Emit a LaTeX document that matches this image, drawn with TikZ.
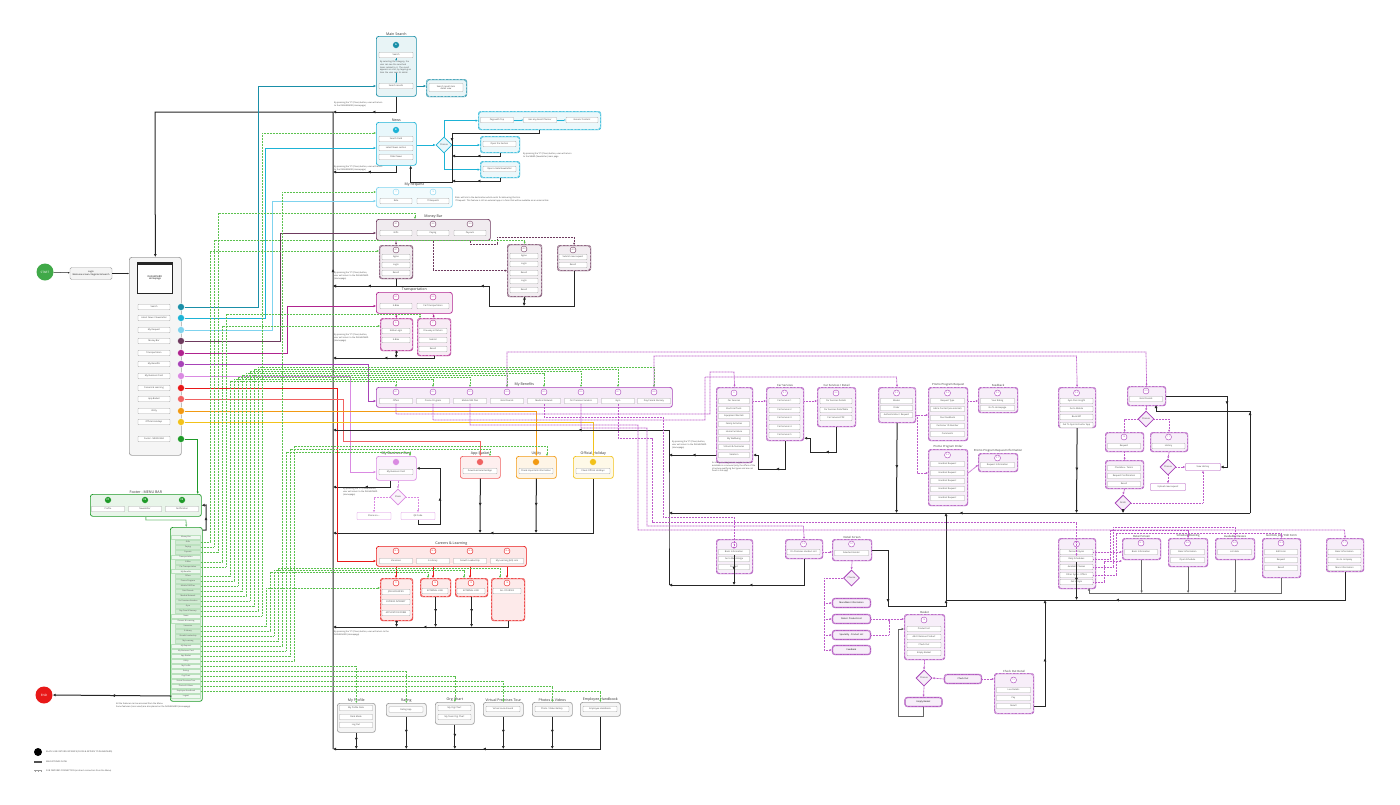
\documentclass[tikz,border=0pt]{standalone}
\usepackage{fontspec}
\setmainfont{Open Sans}
\usetikzlibrary{arrows.meta,positioning,calc,shapes.geometric,decorations.markings}
\definecolor{ms}{HTML}{1A8FA8}
\definecolor{nw}{HTML}{1DB3D6}
\definecolor{rq}{HTML}{7FD3EE}
\definecolor{mb}{HTML}{6E3A5E}
\definecolor{tr}{HTML}{B0238F}
\definecolor{bf}{HTML}{A843B8}
\definecolor{bc}{HTML}{DA8AE2}
\definecolor{cl}{HTML}{E81818}
\definecolor{ab}{HTML}{F06262}
\definecolor{ut}{HTML}{F29A12}
\definecolor{oh}{HTML}{F2C21A}
\definecolor{ft}{HTML}{1E9A28}
\definecolor{gd}{HTML}{5CC24F}
\definecolor{pd}{HTML}{BE5CCA}
\definecolor{rt}{HTML}{262626}
\definecolor{gy}{HTML}{A0A0A0}
% panel from (x1,y1) to (x2,y2), y going down
\newcommand{\pnl}[6]{\node[#2, anchor=north west, minimum width={#5-#3}, minimum height={#6-#4}] (#1) at (#3,#4) {};}
\tikzset{
  panel/.style={draw=#1, fill=#1!10, rounded corners=2.5pt, line width=0.7pt, inner sep=0pt},
  subpanel/.style={draw=#1, fill=#1!9, rounded corners=2.5pt, line width=1.2pt, inner sep=0pt,
    postaction={draw=white, line width=0.4pt, dash pattern=on 0.7pt off 0.7pt}},
  item/.style={draw=black!35, fill=white, rounded corners=0.6pt, line width=0.3pt, minimum height=5.5pt,
    minimum width=32pt, inner sep=0.2pt, font=\fontsize{2.2}{2.6}\selectfont, text=black!75},
  num/.style={circle, draw=#1, fill=white, line width=0.4pt, minimum size=6pt, inner sep=0pt,
    font=\fontsize{2}{2.4}\selectfont, text=#1},
  dot/.style={circle, fill=#1, draw=white, line width=0.4pt, minimum size=7pt, inner sep=0pt,
    font=\fontsize{2.4}{2.8}\selectfont\bfseries, text=white},
  ttl/.style={font=\fontsize{3.6}{4}\selectfont, text=black!80, inner sep=0.6pt, anchor=south},
  ttls/.style={ttl, font=\fontsize{2.8}{3.2}\selectfont},
  note/.style={font=\fontsize{2.1}{2.6}\selectfont, text=black!75, align=left, anchor=north west, inner sep=0pt},
  choice/.style={diamond, draw=#1, fill=#1!10, line width=0.8pt, minimum size=16pt, inner sep=0pt,
    font=\fontsize{2.2}{2.6}\selectfont, text=black!75},
  feed/.style={draw=#1, line width=0.8pt, -{Latex[length=2.4pt,width=2.4pt]}},
  tiny/.style={draw=#1, line width=0.35pt, -{Latex[length=1.6pt,width=1.6pt]}},
  mid/.style={postaction={decorate, decoration={markings,
    mark=at position 0.5 with {\arrow{Latex[length=3pt,width=3pt]}}}}},
  ret/.style={draw=rt, line width=1pt, -{Latex[length=3pt,width=3pt]}, mid},
  sub/.style={draw=pd, line width=0.7pt, dash pattern=on 1pt off 0.5pt, -{Latex[length=2.2pt,width=2.2pt]}},
  grn/.style={draw=gd, line width=0.6pt, dash pattern=on 1pt off 0.5pt, -{Latex[length=2.2pt,width=2.2pt]}},
  frowh/.style={draw=ft!30, fill=ft!7, minimum width=29pt, minimum height=4.3pt, inner sep=0.2pt,
    font=\fontsize{1.9}{2.2}\selectfont, text=black!70},
  frowi/.style={frowh, fill=ft!20, minimum width=25pt}
}
\begin{document}
\begin{tikzpicture}[x=1pt,y=-1pt, font=\fontsize{2.2}{2.6}\selectfont]
\useasboundingbox (0,0) rectangle (1400,804);
\fill[white] (0,0) rectangle (1400,804);

% ---------------- start, login, dashboard
\node[circle, fill=ft!85!white, minimum size=17pt, inner sep=0pt, text=white,
  font=\fontsize{3}{3.5}\selectfont] (start) at (45,272) {START};
\node[draw=gy, fill=gy!12, rounded corners=1.5pt, minimum width=42pt, minimum height=12pt,
  align=center, inner sep=0pt] (login) at (91,273.5) {Login\\Welcome screen / Register \& Search};
\pnl{dash}{panel=gy}{129}{257}{181}{455}
\node[draw=rt, line width=0.9pt, fill=white, minimum width=35pt, minimum height=31pt,
  anchor=north west, align=center, font=\fontsize{2.4}{2.9}\selectfont] (scr) at (137,262) {DASHBOARD\\Homepage};
\fill[rt] (scr.north west) rectangle ([yshift=-2.5pt]scr.north east);
\draw[tiny=rt, line width=0.5pt] (start) -- (login);
\draw[tiny=rt, line width=0.5pt] (login) -- (login -| dash.west);
\foreach \i/\yy/\t in {1/307/Search, 2/318/{Latest News / Newsletter}, 3/330/My Request, 4/341/Money Bar,
  5/353/Transportation, 6/364/My Benefits, 7/376/My Business Card, 8/388/Careers \& Learning,
  9/399/App Basket, 10/411/Utility, 11/422/Official Holidays, 12/439/Footer - MENU BAR}
  \node[item, minimum width=32pt] (m\i) at (154,\yy) {\t};
\foreach \i/\yy/\c in {1/307/ms, 2/318/nw, 3/330/rq, 4/341/mb, 5/353/tr, 6/364/bf, 7/376/bc,
  8/388/cl, 9/399/ab, 10/411/ut, 11/422/oh, 12/439/ft}
  \node[dot=\c] (d\i) at (181,\yy) {};

% ---------------- main search
\pnl{msearch}{panel=ms}{376}{36}{416}{96}
\node[ttl] at (msearch.north) {Main Search};
\node[dot=ms] (msA) at (396,45) {A};
\node[item, minimum width=34pt] (msq) at (396,55) {Search};
\node[note, anchor=north, text width=32pt] (mstx) at (396,61) {By selecting the category, the user can see the searched items related to it. The result appears as a list; by tapping an item the user sees its detail.};
\node[item, minimum width=34pt] (msres) at (396,86) {Search results};
\draw[tiny=ms] (msq) -- (mstx);
\draw[tiny=ms] (mstx) -- (msres);
\pnl{msdet}{subpanel=ms}{426}{79}{466}{96}
\node[item, minimum width=34pt, minimum height=8pt, align=center] (msdi) at (446,87.5) {Search result item\\detail view};
\draw[feed=ms] (msres -| msearch.east) -- (msres -| msdet.west);

% ---------------- news
\pnl{news}{panel=nw}{376}{122}{416}{165}
\node[ttl] at (news.north) {News};
\node[dot=nw] (nwB) at (396,130) {B};
\node[item, minimum width=34pt] (nwf) at (396,139) {Search Field};
\node[item, minimum width=34pt] (nwl) at (396,148) {Latest News section};
\node[item, minimum width=34pt] (nwo) at (396,157) {Older News};
\node[choice=nw] (nwch) at (444,145) {Choose};
\pnl{nw1}{subpanel=nw}{478}{111}{600}{129}
\node[item, minimum width=33pt] (nw1a) at (497,120) {Page with Top};
\node[item, minimum width=33pt] (nw1b) at (540,120) {Has any Event Planner};
\node[item, minimum width=32pt] (nw1c) at (582,120) {Generic Content};
\draw[tiny=nw] (nw1a) -- (nw1b);
\draw[tiny=nw] (nw1b) -- (nw1c);
\pnl{nw2}{subpanel=nw}{480}{136}{519}{152}
\node[item, minimum width=33pt] (nw2a) at (499.5,144) {Open the Section};
\pnl{nw3}{subpanel=nw}{480}{161}{519}{177}
\node[item, minimum width=33pt] (nw3a) at (499.5,169) {Open a Gate Newsletter};
\draw[feed=nw] (nwch -| news.east) -- (nwch.west);
\draw[feed=nw] (nwch.north) |- (nw1.west);
\draw[feed=nw] (nwch.east) -- (nwch -| nw2.west);
\draw[feed=nw] (nwch.south) |- (nw3.west);
\draw[ret] (nw1.south) |- (452,133) -- (452,182) -| ([xshift=-6pt]news.south east);
\draw[ret] (nw2.south) |- (452,156);
\draw[ret] (nw3.south) |- (452,181);
\node[note] (nt1) at (334,102) {By pressing the ``X'' (Close) button, user will return\\to the DASHBOARD (Homepage)};
\node[note] (nt2) at (334,166) {By pressing the ``X'' (Close) button, user will return\\to the DASHBOARD (Homepage)};
\node[note] (nt3) at (523,153) {By pressing the ``X'' (Close) button, user will return\\to the NEWS (Newsletter) main page};

% ---------------- my request
\pnl{mreq}{panel=rq}{376}{187}{452}{207}
\node[ttl] at (mreq.north) {My Request};
\node[num=rq] at (396,192) {17};
\node[num=rq] at (433,192) {18};
\node[item] (mrq1) at (396,201) {Ride};
\node[item] (mrq2) at (433,201) {IT Requests};
\node[note] (nt4) at (455,197) {Ride: will link to the destination which exists for delivering this link.\\IT Request: This feature is still an external app or a form that will be available as an external link.};

% ---------------- money bar
\pnl{mbar}{panel=mb}{376}{219}{490}{240}
\node[ttl] at (mbar.north) {Money Bar};
\foreach \x/\n/\t in {396/1/Gifts, 433/2/Paying, 470/3/Payouts}{
  \node[num=mb] at (\x,224) {3.\n};
  \node[item] (mb\n) at (\x,233) {\t};}
\pnl{mbs1}{subpanel=mb}{379}{245}{412}{278}
\node[num=mb] at (396,250) {4.1};
\foreach \yy/\t in {257/Agree, 265/Login, 273/Result} \node[item, minimum width=28pt] at (396,\yy) {\t};
\pnl{mbs2}{subpanel=mb}{507}{244}{541}{296}
\node[num=mb] at (524,249) {4.2};
\foreach \yy/\t in {256/Agree, 264/Login, 273/Result, 281/Login, 290/Result} \node[item, minimum width=28pt] at (524,\yy) {\t};
\pnl{mbs3}{subpanel=mb}{557}{245}{590}{270}
\node[num=mb] at (573,250) {4.3};
\foreach \yy/\t in {257/Submit new request, 265/Result} \node[item, minimum width=28pt] at (573,\yy) {\t};
\draw[sub, draw=mb] (mb1 |- mbar.south) -- (mbs1.north);
\draw[sub, draw=mb] (mb2 |- mbar.south) |- (mbs2.west);
\draw[sub, draw=mb] (mb3 |- mbar.south) -- (470,244) -| (497,237) -| (mbs3.north);
\draw[ret] (mbs1.south) |- (333,286);
\draw[ret] (mbs3.south) |- (489,306) |- (333,286);
\draw[ret] (mbs2.south) -- (524,306);
\node[note] (nt5) at (334,272) {By pressing the ``X'' (Close) button,\\user will return to the DASHBOARD\\(Homepage)};

% ---------------- transportation
\pnl{trn}{panel=tr}{376}{292}{452}{313}
\node[ttl] at (trn.north) {Transportation};
\node[num=tr] at (396,297) {5.1};
\node[num=tr] at (433,297) {5.2};
\node[item] (tr1) at (396,306) {E-Bike};
\node[item] (tr2) at (433,306) {Car Transportation};
\pnl{trs1}{subpanel=tr}{380}{318}{412}{350}
\node[num=tr] at (396,323) {6};
\node[item, minimum width=28pt] at (396,331) {E-Bike Login};
\node[item, minimum width=28pt] at (396,340) {E-Bike};
\pnl{trs2}{subpanel=tr}{417}{318}{450}{355}
\node[num=tr] at (433,323) {7};
\foreach \yy/\t in {331/One-way or Return, 340/Submit, 349/Result} \node[item, minimum width=28pt] at (433,\yy) {\t};
\draw[sub, draw=tr] (tr1 |- trn.south) -- (trs1.north);
\draw[sub, draw=tr] (tr2 |- trn.south) -- (trs2.north);
\draw[ret] (trs2.south) |- (333,358);
\draw[ret] (trs1.south) -- (396,358);
\node[note] (nt6) at (334,334) {By pressing the ``X'' (Close) button,\\user will return to the DASHBOARD\\(Homepage)};

% ---------------- my benefits
\pnl{ben}{panel=bf}{376}{387}{672}{407}
\node[ttl] at (ben.north) {My Benefits};
\foreach \x/\n/\t in {396/1/Offers, 433/2/Promo Program, 470/3/Mobile SIM Plan, 507/4/Gold Friends,
  544/5/Medical Network, 581/6/On Premises Vendors, 618/7/Gym, 654/8/Day Care \& Nursery}{
  \node[num=bf] at (\x,392) {8.\n};
  \node[item, minimum width=33pt] (bf\n) at (\x,401) {\t};}

% ---------------- business card, app basket, utility, holiday
\pnl{bcard}{panel=bc}{376}{456}{416}{480}
\node[ttl] at (bcard.north) {My Business Card};
\node[dot=bc] at (396,462) {};
\node[item, minimum width=34pt] (bcd1) at (396,472) {My Business Card};
\node[choice=bc] (bcch) at (398,497) {Share};
\node[item, draw=bc, minimum width=34pt, minimum height=7pt] (bcsh) at (374,516) {Share via ...};
\node[item, draw=bc, minimum width=34pt, minimum height=7pt] (bcqr) at (418,516) {QR Code};
\draw[sub, draw=bc] (bcard.south -| bcch) -- (bcch.north);
\draw[sub, draw=bc] (bcch.west) -| (bcsh.north);
\draw[sub, draw=bc] (bcch.east) -| (bcqr.north);
\draw[ret] (bcqr.south) |- (440,524) |- (bcard.east);
\draw[ret] ([xshift=-6pt]bcard.south) |- (333,487);
\node[note] (nt7) at (343,488) {By pressing the ``X'' (Close) button,\\user will return to the DASHBOARD\\(Homepage)};
\pnl{apb}{panel=ab}{460}{456}{500}{478}
\node[ttl] at (apb.north) {App Basket};
\node[dot=ab] at (480,462) {};
\node[item, minimum width=34pt] at (480,471) {Download selected App};
\pnl{utl}{panel=ut}{516}{456}{556}{478}
\node[ttl] at (utl.north) {Utility};
\node[dot=ut] at (536,462) {};
\node[item, minimum width=34pt] at (536,471) {Check important information};
\pnl{hol}{panel=oh}{573}{456}{613}{478}
\node[ttl] at (hol.north) {Official Holiday};
\node[dot=oh] at (593,462) {};
\node[item, minimum width=34pt] at (593,471) {Check Official Holidays};
\draw[ret] (hol.south) |- (333,533);
\draw[ret] (apb.south) -- (480,533);
\draw[ret] (utl.south) -- (536,533);

% ---------------- careers
\pnl{car}{panel=cl}{376}{546}{526}{566}
\node[ttl] at (car.north) {Careers \& Learning};
\foreach \x/\n/\t in {396/1/Vacancies, 433/2/E-Library, 470/3/Growth Leadership, 507/4/My Learning (HR) Link}{
  \node[num=cl] at (\x,551) {10.\n};
  \node[item, minimum width=33pt] (cl\n) at (\x,561) {\t};}
\pnl{cs1}{subpanel=cl}{380}{578}{412}{620}
\node[num=cl] at (396,583) {11};
\foreach \yy/\t in {592/JOB VACANCIES, 602/EXPRESS INTEREST, 613/APPLICATION FORM} \node[item, minimum width=28pt] at (396,\yy) {\t};
\pnl{cs2}{subpanel=cl}{420}{578}{450}{596}
\node[num=cl] at (435,583) {12};
\node[item, minimum width=26pt] at (435,591) {EXTERNAL LINK};
\pnl{cs3}{subpanel=cl}{455}{578}{487}{596}
\node[num=cl] at (471,583) {13};
\node[item, minimum width=28pt] at (471,591) {EXTERNAL LINK};
\pnl{cs4}{subpanel=cl}{491}{578}{524}{620}
\node[num=cl] at (507,583) {14};
\node[item, minimum width=28pt] at (507,591) {ALL COURSES};
\foreach \n in {1,2,3,4} \draw[feed=cl, line width=0.6pt] (cl\n |- car.south) -- (cl\n |- cs\n.north);
\draw[ret] (cs4.south) |- (333,627);
\foreach \n in {1,2,3} \draw[ret] (cs\n.south) -- (cs\n.south |- 0,627);
\node[note] (nt8) at (334,631) {By pressing the ``X'' (Close) button, user will return to the\\DASHBOARD (Homepage)};

% ---------------- bottom row
\pnl{prof}{panel=gy}{337}{703}{375}{732}
\node[ttl] at (prof.north) {My Profile};
\foreach \yy/\t in {708/My Profile Data, 717/Dark Mode, 725/Log Out} \node[item, minimum width=33pt] at (356,\yy) {\t};
\pnl{rate}{panel=gy}{386}{703}{426}{716}
\node[ttl] at (rate.north) {Rating};
\node[item, minimum width=34pt] at (406,709.5) {Rating App};
\pnl{org}{panel=gy}{435}{702}{474}{724}
\node[ttl] at (org.north) {Org Chart};
\node[item, minimum width=33pt] at (454.5,708) {My Org Chart};
\node[item, minimum width=33pt] at (454.5,717) {My Team Org Chart};
\pnl{vrt}{panel=gy}{483}{702}{523}{716}
\node[ttl] at (vrt.north) {Virtual Premises Tour};
\node[item, minimum width=34pt] at (503,709) {Virtual Look Around};
\pnl{pho}{panel=gy}{532}{702}{572}{716}
\node[ttl] at (pho.north) {Photos \& Videos};
\node[item, minimum width=34pt] at (552,709) {Photo / Video Gallery};
\pnl{hbk}{panel=gy}{580}{702}{620}{716}
\node[ttl] at (hbk.north) {Employee Handbook};
\node[item, minimum width=34pt] at (600,709) {Employee Handbook};
\draw[ret] (hbk.south) |- (333,749);
\foreach \b in {prof,rate,org,vrt,pho} \draw[ret] (\b.south) -- (\b.south |- 0,749);

% ---------------- trunk back to dashboard
\coordinate (trkB) at (333,749);
\coordinate (trkT) at (333,112);
\draw[ret] (trkB) -- (trkT) -- (155,112) -- (dash.north);
\draw[ret] (msearch.south) |- (trkT);
\draw[ret] (news.south) |- (333,172);

% ---------------- footer
\pnl{fmb}{panel=ft}{90}{494}{201}{516}
\node[ttl] at (fmb.north) {Footer - MENU BAR};
\foreach \x/\n/\t in {108/1/Profile, 145/2/Newsletter, 182/3/Notification}{
  \node[dot=ft] at (\x,500) {F\n};
  \node[item, minimum width=33pt] (fm\n) at (\x,509) {\t};}
\pnl{flist}{panel=ft}{170}{527}{202}{701}
\foreach \i/\yy/\t/\s in {1/537/Money Bar/h, 2/542/Gifts/i, 3/547/Paying/i, 4/552/Payouts/i,
  5/557/Transportation/h, 6/562/E-Bike/i, 7/567/Car Transportation/i,
  8/571.5/My Benefits/h, 9/576/Offers/i, 10/581/Promo Program/i, 11/586/Mobile SIM Plan/i,
  12/591/Gold Friends/i, 13/596/Medical Network/i, 14/601/On Premises Vendors/i, 15/606/Gym/i,
  16/611/Day Care \& Nursery/i, 17/616/News/h, 18/621/Careers \& Learning/h, 19/626/Vacancies/i,
  20/631/E-Library/i, 21/636/Growth Leadership/i, 22/641/My Learning/i, 23/646/My Request/h,
  24/651/My Business Card/h, 25/656/App Basket/h, 26/661/Utility/h, 27/666/My Profile/h,
  28/671/Rating/h, 29/676/Org Chart/h, 30/681/Virtual Premises Tour/h, 31/686/Photos \& Videos/h,
  32/691/Employee Handbook/h, 33/696/Logout/h}{
  \if\s h\node[frowh] (fr\i) at (186,\yy) {\t};\else\node[frowi] (fr\i) at (188,\yy) {\t};\fi}
\node[circle, fill=cl, minimum size=17pt, inner sep=0pt, text=white,
  font=\fontsize{3}{3.5}\selectfont] (end) at (44,695) {END};
\draw[ret] (fr33.west) -- (end.east);
\draw[ret] ([yshift=-3pt]flist.north east) -| (206,505) -- (fmb.east);
\draw[draw=ft!60, line width=0.8pt, -{Latex[length=2.4pt,width=2.4pt]}] (fmb.south) |- (186,520) -- (flist.north);
\node[note] (nt9) at (116,703) {All the features can be accessed from the Menu.\\Some features (icons used) are also placed on the DASHBOARD (Homepage)};

% ---------------- dashboard feeds
\draw[feed=ms] (d1.east) -| (258,86) -- (msres -| msearch.west);
\draw[feed=nw] (d2.east) -| (265,148) -- (nwl -| news.west);
\draw[feed=rq] (d3.east) -| (272,201) -- (mrq1 -| mreq.west);
\draw[feed=mb] (d4.east) -| (280,233) -- (mb1 -| mbar.west);
\draw[feed=tr] (d5.east) -| (287,306) -- (tr1 -| trn.west);
\draw[feed=bf] (d6.east) -| (368,401) -- (bf1 -| ben.west);
\draw[feed=bc] (d7.east) -| (350,472) -- (bcd1 -| bcard.west);
\draw[feed=cl] (d8.east) -| (337,561) -- (cl1 -| car.west);
\draw[feed=ab] (d9.east) -| (343,441) -| (apb.north);
\draw[feed=ut] (d10.east) -| (utl.north);
\draw[feed=oh] (d11.east) -| (hol.north);
\draw[feed=ft] (d12.east) -| ([xshift=-4pt]fmb.north east);

% ---------------- green menu connections
\draw[grn] (fr2.east) -| (210,251) -- (mbs1.west |- 0,251);
\draw[grn] (fr3.east) -| (214,240) -| (mbs2.north);
\draw[grn] (fr4.east) -| (218,213) -| (415,219);
\draw[grn] (fr6.east) -| (222,326) -- (trs1.west |- 0,326);
\draw[grn] (fr7.east) -| (226,314) -| (420,318);
\foreach \i/\n/\xr/\yh in {9/1/230/381, 10/2/234/379, 11/3/238/377, 12/4/242/375,
  13/5/246/373, 14/6/250/371, 15/7/254/369, 16/8/258/367}
  \draw[grn] (fr\i.east) -| (\xr,\yh) -| (bf\n |- ben.north);
\draw[grn] (fr17.east) -| (262,133) -- (news.west |- 0,133);
\draw[grn] (fr19.east) -| (266,588) -- (cs1.west |- 0,588);
\draw[grn] (fr20.east) -| (270,572) -| (428,578);
\draw[grn] (fr21.east) -| (274,570) -| (464,578);
\draw[grn] (fr22.east) -| (278,568) -| (500,578);
\draw[grn] (fr23.east) -| (282,192) -- (mreq.west |- 0,192);
\draw[grn] (fr24.east) -| (286,452) -| (410,456);
\draw[grn] (fr25.east) -| (290,449) -| (490,456);
\draw[grn] (fr26.east) -| (294,446) -| (547,456);
\draw[grn] (fr27.east) -| (prof.north);
\draw[grn] (fr28.east) -| (rate.north);
\draw[grn] (fr29.east) -| (org.north);
\draw[grn] (fr30.east) -| (vrt.north);
\draw[grn] (fr31.east) -| (pho.north);
\draw[grn] (fr32.east) -| (hbk.north);

% ---------------- right cluster: offers
\pnl{ofc}{subpanel=bf}{716}{387}{752}{462}
\node[num=bf] at (734,393) {9};
\foreach \k/\yy/\t in {1/401/Car Services, 2/409/Electrical Tools, 3/416/Equipment Rentals, 4/424/Family Activities,
  5/432/Home Furniture, 6/439/My Wellbeing, 7/447/Schools \& Nurseries, 8/455/Vacation}
  \node[item, minimum width=31pt] (of\k) at (734,\yy) {\t};
\node[note] (nt10) at (712,462) {As many as categories / suppliers can be\\available in a carousel (only the offers of the\\structure qualifying feel types and are not\\fixed in the app)};
\node[note] (nt11) at (672,441) {By pressing the ``X'' (Close) button,\\user will return to the DASHBOARD\\(Homepage)};
\pnl{csv}{subpanel=bf}{766}{387}{803}{440}
\node[ttls] at (csv.north) {Car Services};
\node[num=bf] at (784.5,393) {9.1};
\foreach \k/\yy in {1/401, 2/410, 3/418, 4/427, 5/435} \node[item, minimum width=31pt] (cv\k) at (784.5,\yy) {Car Services \k};
\pnl{csd}{subpanel=bf}{817}{387}{855}{426}
\node[ttls] at (csd.north) {Car Services / Detail};
\node[num=bf] at (836,393) {9.2};
\foreach \k/\yy/\t in {1/401/Car Services Details, 2/410/{Car Services Data/Table}, 3/418/Car Services PDF}
  \node[item, minimum width=32pt] (cd\k) at (836,\yy) {\t};
\draw[sub] (of1 -| ofc.east) -- (of1 -| csv.west);
\draw[sub] (cv1 -| csv.east) -- (cv1 -| csd.west);
\draw[ret] (csv.south) |- (758,469) |- (of8 -| ofc.east);
\draw[ret] (csd.south) |- (810,452) |- ([yshift=3pt]csv.south east);

% ---------------- promo program
\pnl{mod}{subpanel=bf}{878}{387}{915}{422}
\node[num=bf] at (896.5,393) {9.3};
\foreach \k/\yy/\t in {1/401/Modes, 2/408/Order, 3/415/{Authentication / Request}}
  \node[item, minimum width=32pt] (md\k) at (896.5,\yy) {\t};
\pnl{prq}{subpanel=bf}{928}{387}{967}{440}
\node[ttls] at (prq.north) {Promo Program Request};
\node[num=bf] at (947.5,393) {9.4};
\foreach \k/\yy/\t in {1/401/Request Type, 2/409/Add a Contact (via external), 3/418/Your Feedback,
  4/426/Customer ID Number, 5/434/Comments}
  \node[item, minimum width=34pt] (pq\k) at (947.5,\yy) {\t};
\pnl{fbk}{subpanel=bf}{978}{387}{1017}{412}
\node[ttls] at (fbk.north) {Feedback};
\node[num=bf] at (997.5,393) {9.5};
\node[item, minimum width=34pt] (fb1) at (997.5,401) {Your Rating};
\node[item, minimum width=34pt] (fb2) at (997.5,408) {Go To Homepage};
\pnl{pord}{subpanel=bf}{928}{449}{967}{505}
\node[ttls] at (pord.north) {Promo Program Order};
\node[num=bf] at (947.5,455) {9.6};
\foreach \k/\yy in {1/464, 2/473, 3/481, 4/489, 5/498} \node[item, minimum width=34pt] (po\k) at (947.5,\yy) {Handset Request};
\pnl{pinf}{subpanel=bf}{978}{453}{1017}{471}
\node[ttls] at (pinf.north) {Promo Program Request Information};
\node[num=bf] at (997.5,458) {9.7};
\node[item, minimum width=34pt] (pi1) at (997.5,465) {Request Information};
\draw[sub] (md3 -| mod.east) -- (md3 -| prq.west);
\draw[sub] (917,415) |- (po2 -| pord.west);
\draw[sub] (pq1 -| prq.east) -- (pq1 -| fbk.west);
\draw[sub] (po2 -| pord.east) -- (pi1 -| pinf.west);

% ---------------- gym pass and gold friends
\pnl{gp}{subpanel=bf}{1058}{387}{1095}{427}
\node[num=bf] at (1076.5,393) {9.8};
\foreach \k/\yy/\t in {1/401/Gym Pass Insight, 2/409/Go to Mobile, 3/417/Book Gift, 4/425/Get To Gym Instructor App}
  \node[item, minimum width=33pt] (gp\k) at (1076.5,\yy) {\t};
\pnl{gold}{subpanel=bf}{1127}{386}{1165}{405}
\node[num=bf] at (1146,391) {9.9};
\node[item, minimum width=33pt] (gd1) at (1146,399) {Gold Friends};
\node[choice=bf] (gch1) at (1146,419) {Choose};
\pnl{grq}{subpanel=bf}{1105}{432}{1143}{451}
\node[num=bf] at (1124,437) {10};
\node[item, minimum width=33pt] (gr1) at (1124,446) {Request};
\pnl{ghs}{subpanel=bf}{1150}{432}{1187}{451}
\node[num=bf] at (1168.5,437) {11};
\node[item, minimum width=33pt] (gh1) at (1168.5,446) {History};
\pnl{grs}{subpanel=bf}{1105}{460}{1143}{488}
\foreach \k/\yy/\t in {1/468/Checkbox - Terms, 2/476/Request Confirmation, 3/484/Result}
  \node[item, minimum width=33pt] (gs\k) at (1124,\yy) {\t};
\node[choice=bf] (gch2) at (1168,467) {Choose};
\node[item, draw=bf, minimum width=35pt, minimum height=7pt] (gvh) at (1203,467) {View History};
\node[item, draw=bf, minimum width=35pt, minimum height=7pt] (gup) at (1168,487) {Upload new request};
\node[choice=bf] (gfin) at (1123,503) {Finish};
\draw[sub] (gold.south) -- (gch1.north);
\draw[sub] (gch1.west) -| (grq.north);
\draw[sub] (gch1.east) -| (ghs.north);
\draw[sub] (grq.south) -- (grs.north);
\draw[sub] (grs.south) -- (gfin.north);
\draw[sub] (ghs.south) -- (gch2.north);
\draw[sub] (gch2.east) -- (gvh.west);
\draw[sub] (gch2.south) -- (gup.north);
\draw[sub] (gfin.east) -| (gvh.south);
\draw[ret] (gold.east) -| (1227,467) -- (gvh.east);
\coordinate (rbus) at (1250,513);
\coordinate (lbus) at (669,513);
\draw[ret] (rbus) |- (1156,411) -- (1156,405);
\draw[ret] (gfin.south) -- (1123,513);
\draw[ret] (gp.south) -- (1076.5,513);
\draw[ret] (mod.south) -- (896.5,513);
\draw[ret] (rbus) -- (lbus);
\draw[ret] (669,585) -- (lbus) -- (669,430) -- (333,430);
\draw[ret] (of8 -| ofc.west) -- (669,455);

% ---------------- lower right: medical, vendors, basket
\pnl{lw1}{subpanel=bf}{716}{539}{752}{573}
\node[num=bf] at (734,545) {12};
\foreach \k/\yy/\t in {1/552/Basic Information, 2/559/Go to Web Bridge, 3/567/Contact}
  \node[item, minimum width=31pt] (lw\k) at (734,\yy) {\t};
\pnl{lw2}{subpanel=bf}{785}{539}{822}{558}
\node[num=bf] at (803.5,544) {13};
\node[item, minimum width=33pt] (lv1) at (803.5,552) {On Premises Vendors List};
\pnl{dsc}{subpanel=bf}{832}{539}{871}{560}
\node[ttls] at (dsc.north) {Detail Screen};
\node[num=bf] at (851.5,544) {13.1};
\node[item, minimum width=34pt] (ds1) at (851.5,553) {Selected Vendor};
\draw[sub] (lv1 -| lw2.east) -- (lv1 -| dsc.west);
\node[choice=bf] (dch) at (851.5,578) {Choose};
\foreach \k/\yy/\t in {1/603/{More/Basic Information}, 2/619/{Dates / Products List}, 3/635/Speciality - Product List, 4/650/Feedback}
  \node[subpanel=bf, minimum width=38pt, minimum height=9pt, font=\fontsize{2.2}{2.6}\selectfont] (dv\k) at (851.5,\yy) {\t};
\draw[sub] (dsc.south) -- (dch.north);
\draw[sub, -] (dch.west) -| (824,650);
\foreach \k in {1,2,3,4} \draw[sub] (824,0 |- dv\k) -- (dv\k.west);
\pnl{bsk}{subpanel=bf}{904}{614}{944}{659}
\node[ttls] at (bsk.north) {Basket};
\node[num=bf] at (924,620) {14};
\foreach \k/\yy/\t in {1/629/Product List, 2/637/{Add / Remove Product}, 3/645/Check Out, 4/653/Empty Basket}
  \node[item, minimum width=34pt] (bk\k) at (924,\yy) {\t};
\draw[sub] (dv2.east) -- (dv2 -| bsk.west);
\draw[sub] (dv3.east) -| (889,619);
\node[choice=bf] (bch) at (924,678) {Choose};
\node[subpanel=bf, minimum width=37pt, minimum height=9pt] (bco) at (963,679) {Check Out};
\node[subpanel=bf, minimum width=37pt, minimum height=9pt] (bem) at (923.5,702) {Empty Basket};
\pnl{cod}{subpanel=bf}{994}{673}{1033}{713}
\node[ttls] at (cod.north) {Check Out Detail};
\node[num=bf] at (1013.5,680) {15};
\foreach \k/\yy/\t in {1/690/Live Details, 2/698/Pay, 3/706/Result}
  \node[item, minimum width=34pt] (co\k) at (1013.5,\yy) {\t};
\draw[sub] (bsk.south) -- (bch.north);
\draw[sub] (bco.west) -- (bch.east);
\draw[sub] (bco.east) -- (bco -| cod.west);
\draw[sub] (bch.south) -- (bem.north);
\draw[draw=rt!70, line width=0.7pt, -{Latex[length=2.5pt,width=2.5pt]}] (bem.south) |- (898,716) |- (bk1 -| bsk.west);
\draw[ret] (lw2.south) |- (669,585);
\draw[ret] (lw1.south) -- (734,585);
\draw[ret] (dsc.east) -| (888,606) -| (946,600);

% ---------------- lower right: gym area
\pnl{gy2}{subpanel=bf}{1058}{538}{1095}{588}
\node[num=bf] at (1076.5,544) {16};
\foreach \k/\yy/\t in {1/552/Personal Gyms, 2/559/Daily Schedules, 3/567/Available Classes, 4/575/Other Gyms - Offers, 5/582/Get In Gym}
  \node[item, minimum width=33pt] (gy\k) at (1076.5,\yy) {\t};
\pnl{ds2}{subpanel=bf}{1122}{538}{1160}{559}
\node[ttls] at (ds2.north) {Detail Screen};
\node[num=bf] at (1141,543) {16.1};
\node[item, minimum width=33pt] at (1141,552) {Basic Information};
\pnl{sbk}{subpanel=bf}{1168}{538}{1207}{566}
\node[ttls] at (sbk.north) {Schedule Booking};
\node[num=bf] at (1187.5,543) {16.2};
\node[item, minimum width=34pt] at (1187.5,552) {Basic Information};
\node[item, minimum width=34pt] at (1187.5,560) {Open Schedule};
\pnl{avc}{subpanel=bf}{1215}{538}{1254}{559}
\node[ttls] at (avc.north) {Available Classes};
\node[num=bf] at (1234.5,543) {16.3};
\node[item, minimum width=34pt] at (1234.5,552) {List data};
\pnl{gkf}{subpanel=bf}{1262}{538}{1300}{577}
\node[ttls] at (gkf.north) {Get Kids Job / Edit Form};
\node[num=bf] at (1281,543) {16.4};
\foreach \yy/\t in {552/Edit Form, 560/Request, 568/Result} \node[item, minimum width=33pt] at (1281,\yy) {\t};
\pnl{frp}{subpanel=bf}{1326}{538}{1363}{571}
\node[num=bf] at (1344.5,543) {17};
\foreach \yy/\t in {552/Basic Information, 560/Go to company, 568/More Information} \node[item, minimum width=33pt] at (1344.5,\yy) {\t};
\draw[sub] (gy1.east) -- (gy1 -| ds2.west);
\draw[sub] (gy2.east) -| (1110,530) -| (sbk.north);
\draw[sub] (gy3.east) -| (1113,527) -| (avc.north);
\draw[sub] (gy4.east) -| (1116,533) -| (gkf.north);
\draw[sub] (gy5.east) -| (1104,561) -- (1122,561);
\draw[draw=rt!70, line width=0.7pt, -{Latex[length=2.5pt,width=2.5pt]}] (gkf.south) |- (1089,593) -- (1089,588);
\foreach \b in {ds2,sbk,avc} \draw[draw=rt!70, line width=0.7pt, -{Latex[length=2.5pt,width=2.5pt]}] (\b.south) -- (\b.south |- 0,593);
\draw[ret] (frp.south) |- (946,600) -- (946,513);
\draw[ret] (gy2.south) -- (1076.5,600);
\draw[ret] (cod.east |- co3) -| (1045,600);

% ---------------- benefit sub-feature links
\draw[sub] (bf1.south) |- (710,414) |- (734,372) -- (ofc.north);
\draw[sub] (bf2.south) |- (705,420) |- (896.5,377) -- (mod.north);
\draw[sub] (bf3.south) |- (638,425) |- (1344.5,530) -- (frp.north);
\draw[sub] (bf4 |- ben.north) |- (1146,352) -- (gold.north);
\draw[sub] (bf5.south) |- (663,417) |- (734,517) -- (lw1.north);
\draw[sub] (bf6.south) |- (647,428) |- (803.5,526) -- (lw2.north);
\draw[sub] (bf7.south) |- (652,438) |- (1076.5,522) -- (gy2.north);
\draw[sub] (bf8 |- ben.north) |- (1076.5,356) -- (gp.north);

% ---------------- legend
\fill[black] (38,752) circle (4);
\node[note, anchor=west] (lg1) at (46,752) {BLACK LINE: RETURN INSTANCE (CLOSE \& RETURN TO DASHBOARD)};
\draw[rt!80, line width=2pt] (34,762) -- (42,762);
\node[note, anchor=west] (lg2) at (46,762) {MAIN STRINGS FLOW};
\draw[gy, line width=2pt] (34,771) -- (42,771);
\draw[white, line width=0.6pt, dash pattern=on 0.8pt off 0.8pt] (34,771) -- (42,771);
\node[note, anchor=west] (lg3) at (46,771) {SUB FEATURES CONNECTION (or direct connection from the Menu)};
\end{tikzpicture}
\end{document}
